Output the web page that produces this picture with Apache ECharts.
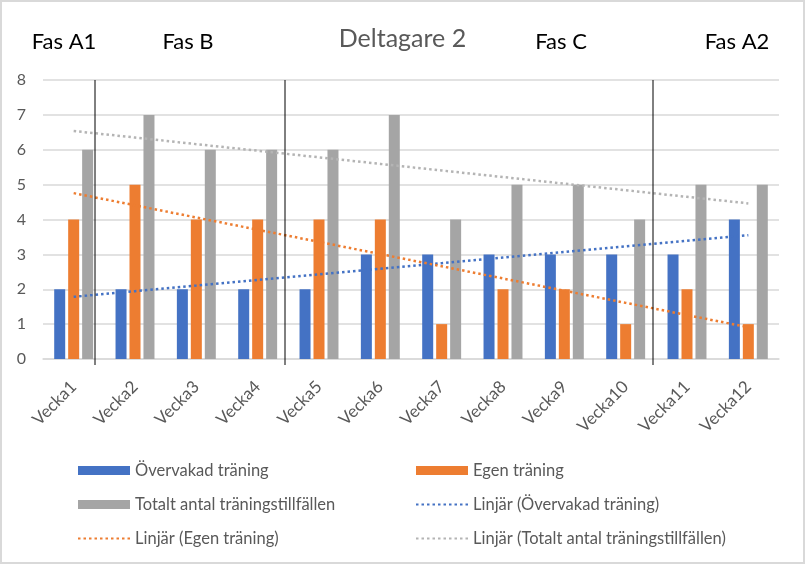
<!DOCTYPE html>
<html>
<head>
<meta charset="utf-8">
<script src="https://cdn.jsdelivr.net/npm/echarts@6/dist/echarts.min.js"></script>
<style>
  html, body { margin: 0; padding: 0; background: #fff; }
  #chart { width: 805px; height: 564px; box-sizing: border-box; border: 2px solid #d9d9d9; }
</style>
</head>
<body>
<div id="chart"></div>
<script>
// data
var weeks = ['Vecka1', 'Vecka2', 'Vecka3', 'Vecka4', 'Vecka5', 'Vecka6',
             'Vecka7', 'Vecka8', 'Vecka9', 'Vecka10', 'Vecka11', 'Vecka12']
var overvakad = [2, 2, 2, 2, 2, 3, 3, 3, 3, 3, 3, 4]
var egen = [4, 5, 4, 4, 4, 4, 1, 2, 2, 1, 2, 1]
var totalt = [6, 7, 6, 6, 6, 7, 4, 5, 5, 4, 5, 5]
var phases = ['Fas A1', 'Fas B', 'Fas C', 'Fas A2']

var font = 'Lato, "Open Sans", sans-serif'

// linjär trendlinje (minsta kvadrat), som i Excel
function linjar(ys) {
  var n = ys.length, mx = (n + 1) / 2, my = 0
  ys.forEach(function (y) { my += y / n })
  var sxy = 0, sxx = 0
  ys.forEach(function (y, i) {
    sxy += (i + 1 - mx) * (y - my)
    sxx += (i + 1 - mx) * (i + 1 - mx)
  })
  var k = sxy / sxx
  return ys.map(function (y, i) { return +(my + k * (i + 1 - mx)).toFixed(3) })
}

var blue = '#4472C4', orange = '#ED7D31', gray = '#A5A5A5'
var names = ['Övervakad träning', 'Egen träning', 'Totalt antal träningstillfällen',
             'Linjär (Övervakad träning)', 'Linjär (Egen träning)', 'Linjär (Totalt antal träningstillfällen)']

var myChart = echarts.init(document.getElementById('chart'))

function bar(name, data, color) {
  return { name: name, type: 'bar', data: data, barWidth: 11, barGap: '27%',
           itemStyle: { color: color }, z: 2 }
}
function trend(name, data, color) {
  return { name: name, type: 'line', data: data, symbol: 'none', z: 3,
           lineStyle: { color: color, width: 2.5, type: [2.5, 3], cap: 'butt' },
           itemStyle: { color: color } }
}

var legendText = { fontFamily: font, fontSize: 16.5, color: '#595959' }
function lineItem(name) {
  return { name: name, itemStyle: { opacity: 0 } }
}

// fasetiketter och skiljelinjer (manuellt ritade i originalet)
var phaseX = [62, 186, 559, 735]
var sepX = [93, 283, 651]
var graphics = []
phases.forEach(function (p, i) {
  graphics.push({ type: 'text', x: phaseX[i], y: 40,
    style: { text: p, fontFamily: font, fontSize: 22, fill: '#000',
             align: 'center', verticalAlign: 'middle' } })
})
sepX.forEach(function (x) {
  graphics.push({ type: 'line', shape: { x1: x, y1: 78, x2: x, y2: 363 },
    style: { stroke: '#000', lineWidth: 1 }, z: 10 })
})

var option = {
  animation: false,
  title: {
    text: 'Deltagare 2', left: 'center', top: 19,
    textStyle: { fontFamily: font, fontSize: 25, fontWeight: 'normal', color: '#595959' }
  },
  legend: [
    { orient: 'vertical', left: 70, top: 455, itemWidth: 52, itemHeight: 9, itemGap: 17,
      textStyle: legendText,
      data: [{ name: names[0], icon: 'rect' }, { name: names[2], icon: 'rect' }, lineItem(names[4])] },
    { orient: 'vertical', left: 408, top: 455, itemWidth: 52, itemHeight: 9, itemGap: 17,
      textStyle: legendText,
      data: [{ name: names[1], icon: 'rect' }, lineItem(names[3]), lineItem(names[5])] }
  ],
  grid: { left: 41, right: 24, top: 78, bottom: 203 },
  xAxis: {
    type: 'category', data: weeks,
    axisLine: { lineStyle: { color: '#d9d9d9', width: 1.5 } },
    axisTick: { show: false },
    axisLabel: { rotate: 45, interval: 0, margin: 25, fontFamily: font, fontSize: 17, color: '#595959' }
  },
  yAxis: {
    type: 'value', min: 0, max: 8, interval: 1,
    axisLine: { show: false }, axisTick: { show: false },
    splitLine: { lineStyle: { color: '#d9d9d9', width: 1.5 } },
    axisLabel: { margin: 17, fontFamily: font, fontSize: 16, color: '#595959' }
  },
  graphic: graphics,
  series: [
    bar(names[0], overvakad, blue),
    bar(names[1], egen, orange),
    bar(names[2], totalt, gray),
    trend(names[3], linjar(overvakad), blue),
    trend(names[4], linjar(egen), orange),
    trend(names[5], linjar(totalt), '#b4b4b4')
  ]
}

myChart.setOption(option)
</script>
</body>
</html>
